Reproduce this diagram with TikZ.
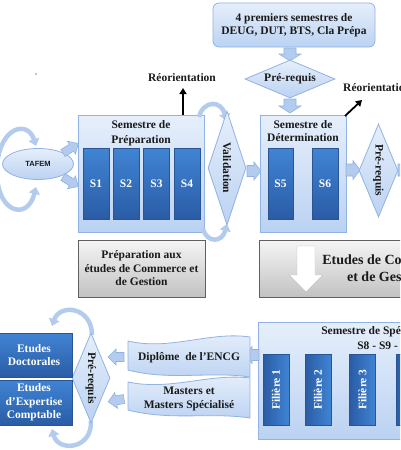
\documentclass[tikz,border=0pt]{standalone}
\usepackage{fontspec}
\setmainfont{Liberation Serif}
\newfontfamily\arialf{Liberation Sans}
\usetikzlibrary{shapes.geometric,arrows.meta}
\definecolor{lbA}{HTML}{E6EFFB}
\definecolor{lbB}{HTML}{BBD2F2}
\definecolor{lbD}{HTML}{90B2E4}
\definecolor{dbA}{HTML}{4084D4}
\definecolor{dbB}{HTML}{2A5CA5}
\definecolor{dbD}{HTML}{2A5595}
\definecolor{grA}{HTML}{F5F5F5}
\definecolor{grB}{HTML}{C2C2C2}
\definecolor{grD}{HTML}{606060}
\definecolor{arrC}{HTML}{B3CCEE}
\definecolor{txtC}{HTML}{1A1A1A}
\tikzset{
  lightbox/.style={rectangle, draw=lbD, line width=0.8pt, top color=lbA, bottom color=lbB, inner sep=0pt},
  darkbox/.style={rectangle, draw=dbD, line width=0.6pt, top color=dbA, bottom color=dbB, inner sep=0pt,
    text=white, font=\fontsize{11.5}{13.5}\selectfont\bfseries},
  fbox/.style={rectangle, draw=dbD, line width=0.6pt, left color=dbB, right color=dbA, inner sep=0pt,
    text=white, font=\fontsize{11.5}{13.5}\selectfont\bfseries, minimum width=71, minimum height=26, rotate=90},
  graybox/.style={rectangle, draw=grD, line width=0.9pt, top color=grA, bottom color=grB, inner sep=0pt},
  diamondbox/.style={diamond, draw=lbD, line width=0.8pt, top color=lbA, bottom color=lbB, inner sep=0pt},
  lbl/.style={text=txtC, font=\fontsize{11.5}{13.5}\selectfont\bfseries, align=center, inner sep=0pt},
  barrowst/.style={fill=arrC, draw=lbD, line width=0.6pt},
  pics/barrow/.style n args={4}{code={
    \path[barrowst] (0,-#2/2) -- ({#1-#4},-#2/2) -- ({#1-#4},-#3/2) -- (#1,0) -- ({#1-#4},#3/2) -- ({#1-#4},#2/2) -- (0,#2/2) -- cycle;}},
  pics/warrow/.style n args={4}{code={
    \path[fill=white, draw=grB, line width=0.4pt] (0,-#2/2) -- ({#1-#4},-#2/2) -- ({#1-#4},-#3/2) -- (#1,0) -- ({#1-#4},#3/2) -- ({#1-#4},#2/2) -- (0,#2/2) -- cycle;}},
  curvarrow/.style={draw=arrC, line width=4.5pt, -{Triangle[width=11pt,length=7pt]}},
  blackarrow/.style={draw=black, line width=1.8pt, -{Triangle[width=7pt,length=6pt]}}
}
\begin{document}
\begin{tikzpicture}[x=1pt,y=-1pt]
\useasboundingbox (0,0) rectangle (400,450);
\clip (0,0) rectangle (400,450);

% tiny dot
\fill (36,74) circle (0.6);

% ---------- top box ----------
\node[lightbox, rounded corners=6pt, minimum width=162, minimum height=44] (top) at (294,25) {};
\node[lbl] (toptxt) at (top) {4 premiers semestres de\\DEUG, DUT, BTS, Cla Prépa};
\pic[rotate=-90] at (290,48) {barrow={13}{12}{22}{7}};

\node[diamondbox, minimum width=90, minimum height=38] (pr1) at (290,79) {};
\node[lbl] at (pr1) {Pré-requis};
\pic[rotate=-90] at (290,99) {barrow={14}{12}{22}{7}};

% ---------- Semestre de Préparation ----------
\node[lightbox, minimum width=126, minimum height=117] (prep) at (141,173.5) {};
\node[lbl] (prep1) at (141,125) {Semestre de};
\node[lbl] (prep2) at (141,141) {Préparation};
\node[darkbox, minimum width=26, minimum height=71] (s1) at (96,183.5) {S1};
\node[darkbox, minimum width=26, minimum height=71] (s2) at (126,183.5) {S2};
\node[darkbox, minimum width=26, minimum height=71] (s3) at (156.5,183.5) {S3};
\node[darkbox, minimum width=26, minimum height=71] (s4) at (187,183.5) {S4};

% Réorientation left
\node[lbl] (reo1) at (182,78) {Réorientation};
\coordinate (reo1b) at (183,115);
\draw[blackarrow] (reo1b) -- (183,88);

% ---------- Validation ----------
\draw[curvarrow] (199,117) .. controls (203,100) and (222,100) .. (226,121);
\draw[curvarrow] (203,229) .. controls (207,243) and (222,243) .. (227,224);
\node[diamondbox, minimum width=38, minimum height=114] (val) at (227,168) {};
\node[lbl, rotate=-90] at (val) {Validation};
\pic at (247,171) {barrow={14}{11}{18}{7}};

% ---------- Semestre de Détermination ----------
\node[lightbox, minimum width=86, minimum height=117] (det) at (303,173.5) {};
\node[lbl] (det1) at (303,125) {Semestre de};
\node[lbl] (det2) at (303,138) {Détermination};
\node[darkbox, minimum width=25, minimum height=71] (s5) at (280.5,183.5) {S5};
\node[darkbox, minimum width=26, minimum height=71] (s6) at (325,183.5) {S6};

% Réorientation right
\node[lbl, anchor=west] (reo2) at (343,88) {Réorientation};
\coordinate (reo2b) at (345,116);
\draw[blackarrow] (reo2b) -- (362,100);

\pic at (346,170) {barrow={14}{12}{19}{7}};
\node[diamondbox, minimum width=39, minimum height=93] (pr2) at (378.5,170.5) {};
\node[lbl, rotate=-90] at (pr2) {Pré-requis};
\pic at (398,170) {barrow={14}{12}{19}{7}};

% ---------- TAFEM ----------
\draw[curvarrow] (-3,166) .. controls (0,126) and (28,120) .. (36,146);
\draw[curvarrow] (-3,176) .. controls (-1,214) and (28,220) .. (36,187);
\node[ellipse, draw=lbD, line width=0.8pt, top color=lbA, bottom color=lbB, minimum width=71, minimum height=31, inner sep=0pt,
  font=\arialf\fontsize{7.5}{9}\selectfont\bfseries, text=txtC] (tafem) at (38,164) {TAFEM};
\pic[rotate=32] at (63,153) {barrow={18}{8}{15}{8}};
\pic[rotate=-32] at (63,177) {barrow={18}{8}{15}{8}};

% ---------- gray boxes ----------
\node[graybox, minimum width=127, minimum height=57] (g1) at (141.5,268.5) {};
\node[lbl] at (g1) {Préparation aux\\études de Commerce et\\de Gestion};

\node[graybox, minimum width=262, minimum height=57] (g2) at (390,268.5) {};
\pic[rotate=-90] at (306,246) {warrow={46}{18}{34}{17}};
\node[lbl, font=\fontsize{14}{17}\selectfont\bfseries] at (386,268) {Etudes de Commerce\\et de Gestion};

% ---------- Semestre de Spécialisation ----------
\node[lightbox, minimum width=262, minimum height=117] (spec) at (389,380.5) {};
\node[lbl] at (386,332) {Semestre de Spécialisation};
\node[lbl] at (388,346) {S8 - S9 - S10};
\node[fbox] (f1) at (276,389.5) {Filière 1};
\node[fbox] (f2) at (318,389.5) {Filière 2};
\node[fbox] (f3) at (362.5,389.5) {Filière 3};
\node[fbox] (f4) at (409,389.5) {Filière 4};
\pic[rotate=180] at (259,355) {barrow={14}{11}{17}{7}};

% ---------- banners ----------
\path[lightbox] (128,341) .. controls (170,351) and (210,331) .. (250,337) -- (250,377)
  .. controls (210,371) and (170,381) .. (128,370) -- cycle;
\node[lbl] (dip) at (189,358) {Diplôme \ de l’ENCG};
\path[lightbox] (128,382) .. controls (170,391) and (210,373) .. (250,378) -- (250,418)
  .. controls (210,412) and (170,421) .. (128,410) -- cycle;
\node[lbl] (mas) at (189,399) {Masters et\\Masters Spécialisé};

\pic[rotate=180] at (124,357) {barrow={16}{9}{16}{8}};
\pic[rotate=190] at (124,399) {barrow={16}{9}{16}{8}};

% ---------- bottom left ----------
\draw[curvarrow] (92,335) .. controls (92,307) and (60,303) .. (52,326);
\draw[curvarrow] (91,421) .. controls (92,450) and (58,452) .. (52,429);
\node[diamondbox, minimum width=38, minimum height=90] (pr3) at (91,378) {};
\node[lbl, rotate=-90] at (pr3) {Pré-requis};

\node[darkbox, minimum width=76, minimum height=44, align=center] (doc) at (34,355) {Etudes\\Doctorales};
\node[darkbox, minimum width=76, minimum height=45, align=center] (exp) at (34,402.5) {Etudes\\d’Expertise\\Comptable};
\end{tikzpicture}
\end{document}
